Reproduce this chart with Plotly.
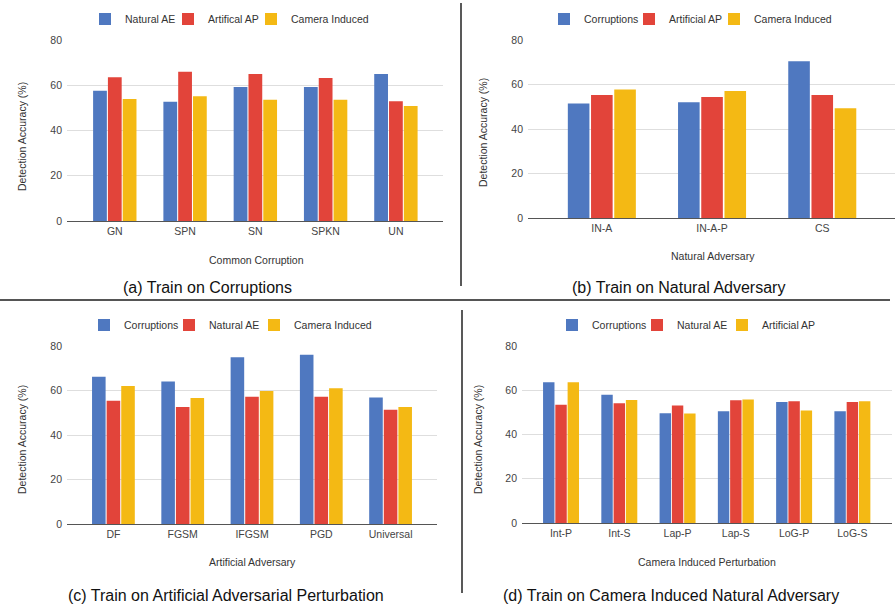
import plotly.graph_objects as go

W, H = 896, 607

# ---------------- data ----------------
a_cats = ["GN", "SPN", "SN", "SPKN", "UN"]
a_series = ["Natural AE", "Artifical AP", "Camera Induced"]
a_natural_ae = [57.6, 52.7, 59.2, 59.2, 65.0]
a_artificial_ap = [63.5, 66.0, 65.0, 63.2, 52.9]
a_camera = [53.9, 55.1, 53.6, 53.6, 50.8]

b_cats = ["IN-A", "IN-A-P", "CS"]
b_series = ["Corruptions", "Artificial AP", "Camera Induced"]
b_corruptions = [51.5, 52.0, 70.4]
b_artificial_ap = [55.3, 54.4, 55.3]
b_camera = [57.7, 57.1, 49.3]

c_cats = ["DF", "FGSM", "IFGSM", "PGD", "Universal"]
c_series = ["Corruptions", "Natural AE", "Camera Induced"]
c_corruptions = [66.2, 64.0, 75.0, 76.1, 56.9]
c_natural_ae = [55.4, 52.6, 57.2, 57.2, 51.4]
c_camera = [62.0, 56.6, 59.8, 61.0, 52.6]

d_cats = ["Int-P", "Int-S", "Lap-P", "Lap-S", "LoG-P", "LoG-S"]
d_series = ["Corruptions", "Natural AE", "Artificial AP"]
d_corruptions = [63.6, 58.0, 49.6, 50.5, 54.7, 50.5]
d_natural_ae = [53.5, 54.1, 53.1, 55.5, 55.0, 54.7]
d_artificial_ap = [63.6, 55.6, 49.5, 55.8, 50.8, 55.0]

y_ticks = [0, 20, 40, 60, 80]
x_titles = ["Common Corruption", "Natural Adversary", "Artificial Adversary", "Camera Induced Perturbation"]
captions = ["(a) Train on Corruptions", "(b) Train on Natural Adversary",
            "(c) Train on Artificial Adversarial Perturbation",
            "(d) Train on Camera Induced Natural Adversary"]
y_title = "Detection Accuracy (%)"

# ---------------- styling ----------------
COLORS = ["#4F78C0", "#E2443A", "#F4B914"]
FONT = "Liberation Sans, Arial, sans-serif"

def px_x(p):
    return p / W

def px_y(p):
    return 1 - p / H

panels = [
    dict(cats=a_cats, series=a_series, vals=[a_natural_ae, a_artificial_ap, a_camera],
         xd=(67, 443), yd=(40, 221), rng=(-0.68, 4.67), legend="legend", lx=85, ly=19, ew=38,
         ytx=22, yty=137, xtx=256, xty=260, capx=207, capy=287),
    dict(cats=b_cats, series=b_series, vals=[b_corruptions, b_artificial_ap, b_camera],
         xd=(528, 895), yd=(40, 218), rng=(-0.67, 2.66), legend="legend2", lx=544, ly=19, ew=40,
         ytx=483, yty=133, xtx=713, xty=256, capx=678, capy=287),
    dict(cats=c_cats, series=c_series, vals=[c_corruptions, c_natural_ae, c_camera],
         xd=(67, 437), yd=(346, 524), rng=(-0.67, 4.67), legend="legend3", lx=84, ly=325, ew=40,
         ytx=22, yty=440, xtx=252, xty=562, capx=226, capy=595),
    dict(cats=d_cats, series=d_series, vals=[d_corruptions, d_natural_ae, d_artificial_ap],
         xd=(522, 892), yd=(346, 523), rng=(-0.67, 5.68), legend="legend4", lx=552, ly=325, ew=40,
         ytx=478, yty=440, xtx=707, xty=562, capx=671, capy=595),
]

fig = go.Figure()
layout = dict(
    width=W, height=H, margin=dict(l=0, r=0, t=0, b=0, autoexpand=False),
    paper_bgcolor="white", plot_bgcolor="white",
    barmode="group", bargap=0.368, bargroupgap=0.07,
    font=dict(family=FONT, size=10.5, color="#444"),
    showlegend=True,
)
annotations = []
shapes = []

for i, p in enumerate(panels):
    n = "" if i == 0 else str(i + 1)
    xa, ya = "x" + n, "y" + n
    for s, name in enumerate(p["series"]):
        fig.add_trace(go.Bar(
            x=p["cats"], y=p["vals"][s], name=name, xaxis=xa, yaxis=ya,
            marker=dict(color=COLORS[s], line=dict(width=0)),
            legend=p["legend"],
        ))
    # invisible spacer entry so the last legend label is not clipped
    fig.add_trace(go.Scatter(
        x=[p["cats"][0]], y=[None], name=" ", mode="markers", xaxis=xa, yaxis=ya,
        marker=dict(color="rgba(0,0,0,0)", size=1), legend=p["legend"], hoverinfo="skip",
    ))
    layout["xaxis" + n] = dict(
        domain=[px_x(p["xd"][0]), px_x(p["xd"][1])], anchor=ya,
        range=list(p["rng"]), showgrid=False, showline=True, linecolor="#555", linewidth=1,
        ticks="", tickfont=dict(size=10.5, color="#444", family=FONT), fixedrange=True,
        automargin=False,
    )
    layout["yaxis" + n] = dict(
        domain=[px_y(p["yd"][1]), px_y(p["yd"][0])], anchor=xa,
        range=[0, 80], tickvals=y_ticks, showgrid=True, gridcolor="#DEDEDE", gridwidth=1,
        zeroline=False, showline=False, ticks="", automargin=False,
        tickfont=dict(size=10.5, color="#444", family=FONT), ticklabelstandoff=4,
    )
    layout[p["legend"]] = dict(
        orientation="h", x=px_x(p["lx"]), xanchor="left", y=px_y(p["ly"]), yanchor="middle",
        font=dict(size=10.5, color="#333", family=FONT), bgcolor="rgba(0,0,0,0)",
        itemwidth=30, tracegroupgap=0, entrywidth=p["ew"], entrywidthmode="pixels",
    )
    annotations.append(dict(
        text=y_title, textangle=-90, xref="paper", yref="paper",
        x=px_x(p["ytx"]), y=px_y(p["yty"]), showarrow=False,
        font=dict(size=10.5, color="#333", family=FONT), xanchor="center", yanchor="middle"))
    annotations.append(dict(
        text=x_titles[i], xref="paper", yref="paper",
        x=px_x(p["xtx"]), y=px_y(p["xty"]), showarrow=False,
        font=dict(size=10.5, color="#333", family=FONT), xanchor="center", yanchor="middle"))
    annotations.append(dict(
        text=captions[i], xref="paper", yref="paper",
        x=px_x(p["capx"]), y=px_y(p["capy"]), showarrow=False,
        font=dict(size=16, color="#111", family=FONT), xanchor="center", yanchor="middle"))

# divider lines
shapes.append(dict(type="line", xref="paper", yref="paper",
                   x0=px_x(461), x1=px_x(461), y0=px_y(3), y1=px_y(286),
                   line=dict(color="#222", width=1.5)))
shapes.append(dict(type="line", xref="paper", yref="paper",
                   x0=px_x(462), x1=px_x(462), y0=px_y(310), y1=px_y(593),
                   line=dict(color="#222", width=1.5)))
shapes.append(dict(type="line", xref="paper", yref="paper",
                   x0=0, x1=px_x(890), y0=px_y(300), y1=px_y(300),
                   line=dict(color="#555", width=2)))

layout["annotations"] = annotations
layout["shapes"] = shapes
fig.update_layout(**layout)

fig.write_html("out.html", config={"displayModeBar": False},
               post_script="document.body.style.margin='0';document.body.style.overflow='hidden';")
